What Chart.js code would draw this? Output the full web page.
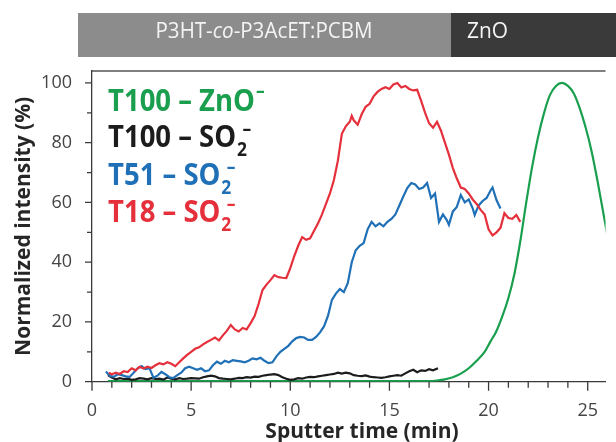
<!DOCTYPE html>
<html><head><meta charset="utf-8">
<script src="https://cdn.jsdelivr.net/npm/chart.js@4.4.1/dist/chart.umd.min.js"></script>
<style>html,body{margin:0;padding:0;background:#fff;overflow:hidden}#wrap{width:616px;height:442px;position:relative}</style>
</head><body><div id="wrap"><canvas id="c" width="616" height="442"></canvas></div>
<script>
// ---- data ----
const seriesNames = ['T100 – ZnO', 'T100 – SO', 'T51 – SO', 'T18 – SO'];
const xAxisTitle = 'Sputter time (min)';
const yAxisTitle = 'Normalized intensity (%)';
const xMajorTicks = [0, 5, 10, 15, 20, 25];
const xMinorTicks = [1,2,3,4,6,7,8,9,11,12,13,14,16,17,18,19,21,22,23,24];
const yMajorTicks = [0, 20, 40, 60, 80, 100];
const yMinorTicks = [10, 30, 50, 70, 90];

const znoTime = [0.8,2,4,6,8,10,12,14,16,17.0,17.4,17.8,18.2,18.6,19.0,19.4,19.8,20.1,20.4,20.7,21.0,21.3,21.6,21.9,22.2,22.5,22.8,23.1,23.4,23.7,24.0,24.3,24.6,24.9,25.2,25.5,25.8,26.1];
const znoValues = [0.2,0.2,0.2,0.2,0.2,0.2,0.2,0.2,0.2,0.2,0.4,0.8,1.5,2.7,4.5,7.0,10.0,13.5,17.0,22.0,28.0,36.0,47.0,60.0,72.0,82.0,90.0,96.0,99.0,100,99.0,96.5,91.5,85.0,77.0,67.0,56.0,45.0];

const t100Time = [0.8,1.0,1.2,1.4,1.6,1.8,2.0,2.2,2.4,2.6,2.8,3.0,3.2,3.4,3.6,3.8,4.0,4.2,4.4,4.6,4.8,5.0,5.2,5.4,5.6,5.8,6.0,6.2,6.4,6.6,6.8,7.0,7.2,7.4,7.6,7.8,8.0,8.2,8.4,8.6,8.8,9.0,9.2,9.4,9.6,9.8,10.0,10.2,10.4,10.6,10.8,11.0,11.2,11.4,11.6,11.8,12.0,12.2,12.4,12.6,12.8,13.0,13.2,13.4,13.6,13.8,14.0,14.2,14.4,14.6,14.8,15.0,15.2,15.4,15.6,15.8,16.0,16.2,16.4,16.6,16.8,17.0,17.2,17.45];
const t100Values = [2.2,1.4,0.8,1.2,0.9,1.0,0.6,0.8,1.2,1.0,0.8,1.2,0.9,1.0,0.7,1.4,1.0,0.8,1.2,0.9,1.0,1.2,1.1,1.0,1.5,1.8,2.0,1.8,1.2,1.0,0.9,0.8,1.0,1.3,1.2,1.5,1.4,1.7,1.6,2.0,2.2,2.4,2.5,2.2,1.5,1.0,0.6,0.8,1.2,1.0,1.4,1.6,1.5,1.8,2.0,2.2,2.4,2.6,3.0,2.7,3.0,2.8,2.2,2.0,1.9,2.1,1.7,1.5,1.4,1.3,1.5,1.8,2.0,2.2,2.0,2.8,3.5,4.0,3.2,3.8,3.6,4.2,3.8,4.5];

const t51Time = [0.7,0.9,1.1,1.3,1.5,1.7,1.9,2.1,2.3,2.5,2.7,2.9,3.1,3.3,3.5,3.7,3.9,4.1,4.3,4.5,4.7,4.9,5.1,5.3,5.5,5.7,5.9,6.1,6.3,6.5,6.7,6.9,7.1,7.3,7.5,7.7,7.9,8.1,8.3,8.5,8.7,8.9,9.1,9.3,9.5,9.7,9.9,10.1,10.3,10.5,10.7,10.9,11.1,11.3,11.5,11.7,11.9,12.1,12.3,12.5,12.7,12.9,13.1,13.3,13.5,13.7,13.9,14.1,14.3,14.5,14.7,14.9,15.1,15.3,15.5,15.7,15.9,16.1,16.3,16.5,16.7,16.9,17.1,17.3,17.5,17.7,17.9,18.0,18.2,18.4,18.6,18.8,19.0,19.2,19.3,19.5,19.7,19.9,20.1,20.2,20.4,20.6];
const t51Values = [3.4,2.0,1.6,2.5,2.2,1.8,1.6,3.0,4.5,5.2,4.2,4.5,1.3,2.0,3.3,2.5,1.5,1.2,2.2,3.0,4.5,5.0,4.5,4.0,4.5,3.5,3.8,5.5,6.7,6.0,7.0,6.5,7.2,7.0,6.8,6.5,7.0,7.8,7.5,8.0,7.0,6.2,6.5,8.5,10.0,11.0,12.0,13.5,14.6,15.0,14.8,14.0,14.0,15.0,16.5,18.5,22.0,27.4,29.5,31.0,30.0,33.0,40.0,44.0,45.5,46.4,51.0,53.5,52.0,53.0,52.0,53.5,54.5,56.0,59.0,62.0,64.8,66.5,66.0,64.5,65.0,66.5,61.5,63.0,53.5,56.0,54.0,52.5,57.0,58.5,62.5,60.0,61.0,58.0,55.8,59.0,60.5,61.5,64.0,65.0,60.8,58.0];

const t18Time = [0.85,1.0,1.2,1.4,1.6,1.8,2.0,2.2,2.4,2.6,2.8,3.0,3.2,3.4,3.6,3.8,4.0,4.2,4.4,4.6,4.8,5.0,5.2,5.4,5.6,5.8,6.0,6.2,6.4,6.6,6.8,7.0,7.2,7.4,7.6,7.8,8.0,8.2,8.4,8.6,8.8,9.0,9.2,9.4,9.6,9.8,10.0,10.2,10.4,10.6,10.8,11.0,11.2,11.4,11.6,11.8,12.0,12.2,12.4,12.6,12.8,13.0,13.1,13.2,13.4,13.6,13.8,14.0,14.2,14.4,14.6,14.8,15.0,15.2,15.4,15.6,15.8,16.0,16.2,16.4,16.6,16.8,17.0,17.2,17.4,17.6,17.8,18.0,18.2,18.4,18.6,18.8,19.0,19.2,19.4,19.6,19.8,20.0,20.2,20.4,20.6,20.8,21.0,21.2,21.4,21.6];
const t18Values = [3.0,2.5,3.0,2.6,3.5,3.2,4.5,3.8,5.0,4.4,5.0,4.6,5.5,6.2,5.8,6.5,6.0,5.2,6.5,7.8,9.0,10.0,11.0,11.5,12.5,13.3,14.0,14.8,13.8,15.5,17.0,19.0,17.5,16.8,18.0,17.5,19.6,22.0,26.0,30.7,32.5,34.0,35.7,35.0,34.8,34.7,38.0,42.0,45.5,48.4,47.5,48.0,50.5,53.0,56.0,59.5,63.0,67.5,74.0,83.0,85.5,87.0,89.0,87.5,86.0,89.5,92.0,93.0,95.5,97.0,98.0,98.6,98.0,99.5,100,98.5,99.0,98.0,97.5,97.7,94.0,90.0,86.5,85.0,87.0,84.0,80.0,76.0,71.5,68.0,65.0,64.5,63.0,61.0,59.5,57.5,56.0,51.0,49.0,50.0,51.5,56.4,54.8,54.5,55.8,53.5];

const colors = {zno:'#1a9f4e', t100:'#1c1c1c', t51:'#1f70b6', t18:'#e5303c'};

const pts = (xs, ys) => xs.map((x, i) => ({x, y: ys[i]}));

const FONT = "'Open Sans', 'DejaVu Sans', sans-serif";

const decorPlugin = {
  id: 'decor',
  afterDraw(chart) {
    const {ctx, scales: {x, y}, chartArea: a} = chart;
    ctx.save();
    // ticks
    ctx.strokeStyle = '#3a3a3a';
    ctx.lineWidth = 1.3;
    ctx.beginPath();
    xMajorTicks.forEach(v => { const px = x.getPixelForValue(v); ctx.moveTo(px, a.bottom); ctx.lineTo(px, a.bottom + 9); });
    xMinorTicks.forEach(v => { const px = x.getPixelForValue(v); ctx.moveTo(px, a.bottom); ctx.lineTo(px, a.bottom + 6); });
    yMajorTicks.forEach(v => { const py = y.getPixelForValue(v); ctx.moveTo(a.left - 7, py); ctx.lineTo(a.left, py); });
    yMinorTicks.forEach(v => { const py = y.getPixelForValue(v); ctx.moveTo(a.left - 5, py); ctx.lineTo(a.left, py); });
    ctx.stroke();
    // top border of plot box
    ctx.strokeStyle = '#555';
    ctx.lineWidth = 1.5;
    ctx.beginPath(); ctx.moveTo(a.left, a.top); ctx.lineTo(a.right, a.top); ctx.stroke();

    // x axis title
    ctx.fillStyle = '#262626';
    ctx.font = 'bold 21px ' + FONT;
    ctx.textAlign = 'center';
    ctx.textBaseline = 'alphabetic';
    ctx.fillText(xAxisTitle, 362, 438);

    // banner
    ctx.textAlign = 'left';
    ctx.fillStyle = '#8c8c8c';
    ctx.fillRect(78, 13, 373, 44);
    ctx.fillStyle = '#3a3a3a';
    ctx.fillRect(451, 13, 165, 44);
    ctx.fillStyle = '#f4f4f4';
    const runs = [['P3HT-', 'normal'], ['co', 'italic'], ['-P3AcET:PCBM', 'normal']];
    let w = 0;
    runs.forEach(r => { ctx.font = r[1] + ' 400 21px ' + FONT; w += ctx.measureText(r[0]).width; });
    const s = 217 / w;
    ctx.save();
    ctx.translate(264 - 217 / 2, 37.5);
    ctx.scale(s, 1);
    let cx = 0;
    runs.forEach(r => { ctx.font = r[1] + ' 400 21px ' + FONT; ctx.fillText(r[0], cx, 0); cx += ctx.measureText(r[0]).width; });
    ctx.restore();
    ctx.font = '400 21px ' + FONT;
    const zw = ctx.measureText('ZnO').width;
    ctx.save();
    ctx.translate(467, 37.5);
    ctx.scale(41 / zw, 1);
    ctx.fillText('ZnO', 0, 0);
    ctx.restore();

    // legend texts
    ctx.font = 'bold 30px ' + FONT;
    const ls = 147 / ctx.measureText(seriesNames[0]).width;
    const items = [
      {t: seriesNames[0], c: colors.zno, base: 110.5, sub: false},
      {t: seriesNames[1], c: colors.t100, base: 147, sub: true},
      {t: seriesNames[2], c: colors.t51, base: 184.5, sub: true},
      {t: seriesNames[3], c: colors.t18, base: 222, sub: true},
    ];
    items.forEach(it => {
      ctx.save();
      ctx.translate(108, it.base);
      ctx.scale(ls, 1);
      ctx.fillStyle = it.c;
      ctx.font = 'bold 30px ' + FONT;
      ctx.fillText(it.t, 0, 0);
      let ex = ctx.measureText(it.t).width;
      ctx.font = 'bold 19px ' + FONT;
      if (it.sub) {
        ctx.fillText('2', ex + 1, 9);
        ctx.fillText('\u2013', ex + 7, -12);
      } else {
        ctx.fillText('\u2013', ex + 1, -14);
      }
      ctx.restore();
    });
    ctx.restore();
  }
};

new Chart(document.getElementById('c'), {
  type: 'scatter',
  data: {
    datasets: [
      {label: 'T18 – SO2−', data: pts(t18Time, t18Values), borderColor: colors.t18, order: 1},
      {label: 'T51 – SO2−', data: pts(t51Time, t51Values), borderColor: colors.t51, order: 2},
      {label: 'T100 – SO2−', data: pts(t100Time, t100Values), borderColor: colors.t100, order: 3},
      {label: 'T100 – ZnO−', data: pts(znoTime, znoValues), borderColor: colors.zno, order: 4, cubicInterpolationMode: 'monotone'},
    ].map(d => Object.assign({showLine: true, pointRadius: 0, borderWidth: 2.2, fill: false, tension: 0}, d))
  },
  options: {
    responsive: false,
    animation: false,
    devicePixelRatio: 1,
    layout: {padding: {top: 71, left: 0, right: 0, bottom: 0}},
    plugins: {legend: {display: false}, tooltip: {enabled: false}},
    scales: {
      x: {
        type: 'linear', min: 0, max: 25.9,
        afterFit: s => { s.height = 60.3; },
        grid: {display: false, drawTicks: false},
        border: {display: true, color: '#3a3a3a', width: 1.3},
        ticks: {stepSize: 5, includeBounds: false, padding: 18, color: '#444', font: {family: FONT, size: 18}},
        title: {display: false, text: xAxisTitle}
      },
      y: {
        min: 0, max: 104,
        afterFit: s => { s.width = 92; },
        grid: {display: false, drawTicks: false},
        border: {display: true, color: '#3a3a3a', width: 1.3},
        ticks: {stepSize: 20, includeBounds: false, padding: 20, color: '#444', font: {family: FONT, size: 18}},
        title: {display: true, text: yAxisTitle, color: '#262626', font: {family: FONT, size: 21, weight: 'bold', lineHeight: 1.2}, padding: {top: 11, bottom: 0}}
      }
    }
  },
  plugins: [decorPlugin]
});
</script>
</body></html>
